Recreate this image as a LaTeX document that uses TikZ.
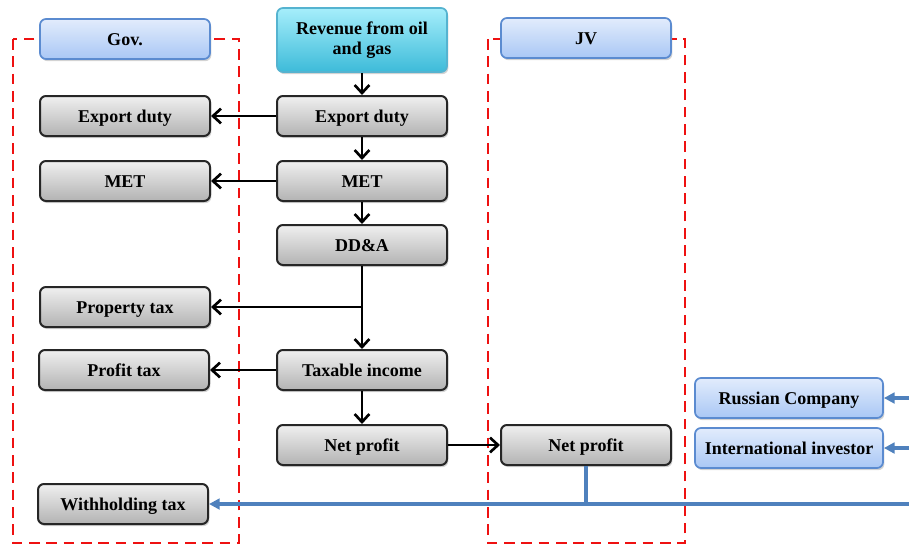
\documentclass[tikz,border=0pt]{standalone}
\usepackage{fontspec}
\setmainfont{Liberation Serif}
\usetikzlibrary{arrows.meta,shadows}
\definecolor{dred}{HTML}{EE1111}
\definecolor{bline}{HTML}{4F81BD}
\definecolor{bbord}{HTML}{5B8BD0}
\definecolor{btop}{HTML}{E2ECFC}
\definecolor{bbot}{HTML}{A9C7F5}
\definecolor{ctop}{HTML}{A6EEFB}
\definecolor{cbot}{HTML}{3DBBD9}
\definecolor{cbord}{HTML}{55B3D0}
\tikzset{
  box/.style={draw=black!85, line width=1.5pt, rounded corners=4.5pt,
    top color=white!94!black, bottom color=black!30, minimum width=127.5pt,
    minimum height=30pt, inner sep=1pt, align=center,
    text height=11pt, text depth=2pt,
    font=\bfseries\fontsize{13.5}{14.5}\selectfont,
    drop shadow={opacity=0.35, shadow xshift=1pt, shadow yshift=-1.6pt}},
  bluebox/.style={box, draw=bbord, line width=1.3pt, top color=btop, bottom color=bbot},
  cyanbox/.style={box, draw=cbord, line width=1.3pt, top color=ctop, bottom color=cbot,
    minimum height=48pt, text height=, text depth=},
  grp/.style={draw=dred, line width=2.2pt, dash pattern=on 8pt off 5pt},
  arr/.style={draw=black, line width=2pt, -{Straight Barb[length=6pt,width=11pt,line width=2pt]}},
  barr/.style={draw=bline, line width=2.8pt, -{Triangle[length=8pt,width=8pt]}},
  bl/.style={draw=bline, line width=2.8pt}
}
\begin{document}
\begin{tikzpicture}[x=0.75pt,y=-0.75pt]
\useasboundingbox (0,0) rectangle (909,547);
% dashed groups
\draw[grp] (13,39) rectangle (239,543);
\draw[grp] (488,39) rectangle (685,543);
% header boxes
\node[bluebox] (gov) at (125,39) {Gov.};
\node[cyanbox] (rev) at (362,40) {Revenue from oil\\and gas};
\node[bluebox] (jv) at (586,38) {JV};
% left column
\node[box] (ed1) at (125,116) {Export duty};
\node[box] (met1) at (125,181) {MET};
\node[box] (prop) at (125,307) {Property tax};
\node[box] (pt) at (124,370) {Profit tax};
\node[box] (wht) at (123,504) {Withholding tax};
% center column
\node[box] (ed2) at (362,116) {Export duty};
\node[box] (met2) at (362,181) {MET};
\node[box] (dda) at (362,245) {DD\&A};
\node[box] (ti) at (362,370) {Taxable income};
\node[box] (np1) at (362,445) {Net profit};
% JV column
\node[box] (np2) at (586,445) {Net profit};
% investors
\node[bluebox, minimum width=141pt] (rc) at (789,398) {Russian Company};
\node[bluebox, minimum width=141pt] (ii) at (789,448) {International investor};
% free ends at right edge
\coordinate (e1) at (909,398);
\coordinate (e2) at (909,448);
\coordinate (e3) at (909,504);
% black connectors
\draw[arr] (rev) -- (ed2);
\draw[arr] (ed2) -- (ed1);
\draw[arr] (ed2) -- (met2);
\draw[arr] (met2) -- (met1);
\draw[arr] (met2) -- (dda);
\draw[arr] (dda) -- (ti);
\draw[arr] (dda.south |- prop.east) -- (prop.east);
\draw[arr] (ti) -- (pt);
\draw[arr] (ti) -- (np1);
\draw[arr] (np1) -- (np2);
% blue connectors
\draw[bl] (np2.south) -- (np2.south |- wht.east);
\draw[barr] (e3) -- (wht.east);
\draw[barr] (e1) -- (rc.east);
\draw[barr] (e2) -- (ii.east);
\end{tikzpicture}
\end{document}
